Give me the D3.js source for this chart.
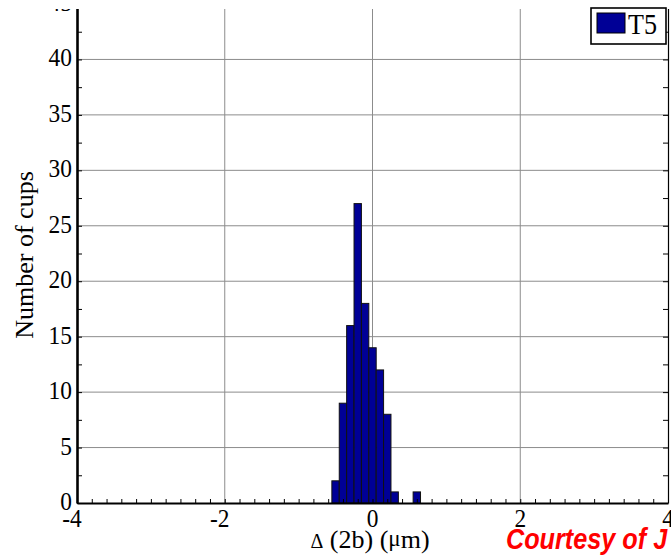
<!DOCTYPE html>
<html>
<head>
<meta charset="utf-8">
<script src="https://cdn.jsdelivr.net/npm/d3@7"></script>
<style>
  body { margin: 0; background: #fff; }
  svg { display: block; }
</style>
</head>
<body>
<div id="hist"></div>
<script>
// histogram values (bin width 0.1)
var binCenters = [-0.5, -0.4, -0.3, -0.2, -0.1, 0.0, 0.1, 0.2, 0.3, 0.6];
var counts     = [2, 9, 16, 27, 18, 14, 12, 8, 1, 1];
var binWidth = 0.1;

var xTicks = [-4, -2, 0, 2, 4];
var yTicks = [0, 5, 10, 15, 20, 25, 30, 35, 40, 45];
var seriesName = "T5";

var w = 671, h = 556;
var plotLeft = 77, plotRight = 668, plotTop = 4, plotBottom = 503;
var serif = "'Liberation Serif', 'DejaVu Serif', serif";

const svg = d3.select("#hist")
      .append("svg")
      .attr("width", w)
      .attr("height", h);

// the source picture is cut off a few pixels below the top of the frame
svg.append("clipPath")
   .attr("id", "cut")
   .append("rect")
   .attr("x", 0).attr("y", 9)
   .attr("width", w).attr("height", h - 9);

const chart = svg.append("g").attr("clip-path", "url(#cut)");

var xScale = d3.scaleLinear()
      .domain([-4, 4])
      .range([plotLeft, plotRight]);

var yScale = d3.scaleLinear()
      .domain([0, 45])
      .range([plotBottom, plotTop]);

// grid lines
chart.append("g")
   .selectAll("line")
   .data(yTicks.filter(d => d > 0 && d < 45))
   .join("line")
   .attr("x1", plotLeft).attr("x2", plotRight)
   .attr("y1", d => yScale(d)).attr("y2", d => yScale(d))
   .attr("stroke", "#8c8c8c")
   .attr("stroke-width", 1);

chart.append("g")
   .selectAll("line")
   .data(xTicks.filter(d => d > -4 && d < 4))
   .join("line")
   .attr("x1", d => xScale(d)).attr("x2", d => xScale(d))
   .attr("y1", plotTop).attr("y2", plotBottom)
   .attr("stroke", "#8c8c8c")
   .attr("stroke-width", 1);

// bars
chart.append("g")
   .selectAll("rect")
   .data(binCenters)
   .join("rect")
   .attr("x", d => xScale(d - binWidth / 2))
   .attr("width", d => xScale(d + binWidth / 2) - xScale(d - binWidth / 2))
   .attr("y", (d, i) => yScale(counts[i]))
   .attr("height", (d, i) => yScale(0) - yScale(counts[i]))
   .attr("fill", "#000096")
   .attr("stroke", "#111")
   .attr("stroke-width", 1);

// minor tick values
var xMinor = d3.range(-40, 41, 2).map(d => d / 10);
var yMinor = d3.range(0, 46, 2.5);

// axes, ticks drawn inward
var xAxis = d3.axisBottom(xScale)
      .tickValues(xMinor)
      .tickSizeInner(-4)
      .tickSizeOuter(0)
      .tickFormat("");

var yAxis = d3.axisLeft(yScale)
      .tickValues(yMinor)
      .tickSizeInner(-5)
      .tickSizeOuter(0)
      .tickFormat("");

var yAxisRight = d3.axisRight(yScale)
      .tickValues(yMinor)
      .tickSizeInner(-5)
      .tickSizeOuter(0)
      .tickFormat("");

chart.append("g")
   .attr("transform", "translate(" + plotRight + ",0)")
   .call(yAxisRight)
   .call(g => g.select(".domain").attr("stroke-width", 1.2));

chart.append("g")
   .attr("transform", "translate(0," + plotBottom + ")")
   .call(xAxis)
   .call(g => g.select(".domain").attr("stroke-width", 2.2));

chart.append("g")
   .attr("transform", "translate(" + plotLeft + ",0)")
   .call(yAxis)
   .call(g => g.select(".domain").attr("stroke-width", 2.6));

// tick labels
chart.append("g")
   .selectAll("text")
   .data(yTicks)
   .join("text")
   .attr("transform", d => "translate(72," + (yScale(d) + 7) + ") scale(0.9,1)")
   .attr("text-anchor", "end")
   .attr("font-family", serif)
   .attr("font-size", 26)
   .text(d => d);

chart.append("g")
   .selectAll("text")
   .data(xTicks)
   .join("text")
   .attr("transform", d => "translate(" + (xScale(d) - (d < 0 ? 5 : 0)) + ",527) scale(0.9,1)")
   .attr("text-anchor", "middle")
   .attr("font-family", serif)
   .attr("font-size", 26)
   .text(d => d);

// axis titles
chart.append("text")
   .attr("transform", "translate(33,255) rotate(-90)")
   .attr("text-anchor", "middle")
   .attr("font-family", serif)
   .attr("font-size", 26)
   .text("Number of cups");

var xTitle = chart.append("text")
   .attr("x", 370)
   .attr("y", 548)
   .attr("text-anchor", "middle")
   .attr("font-family", serif)
   .attr("font-size", 26);
xTitle.append("tspan").attr("font-size", 20).text("\u0394");
xTitle.append("tspan").text(" (2b) (");
xTitle.append("tspan").attr("font-size", 23).attr("dy", -2).text("\u03bc");
xTitle.append("tspan").attr("dy", 2).text("m)");

// legend
var legend = svg.append("g");
legend.append("rect")
   .attr("x", 591).attr("y", 8)
   .attr("width", 75).attr("height", 36)
   .attr("fill", "#fff")
   .attr("stroke", "#000")
   .attr("stroke-width", 1.6);
legend.append("rect")
   .attr("x", 597).attr("y", 13)
   .attr("width", 28).attr("height", 20)
   .attr("fill", "#000096")
   .attr("stroke", "#000")
   .attr("stroke-width", 1);
legend.append("text")
   .attr("transform", "translate(628,34) scale(0.9,1)")
   .attr("font-family", serif)
   .attr("font-size", 29)
   .text(seriesName);

// credit line, runs off the right edge
svg.append("text")
   .attr("transform", "translate(506,549) scale(0.87,1)")
   .attr("font-family", "'Liberation Sans', Arial, sans-serif")
   .attr("font-weight", "bold")
   .attr("font-style", "italic")
   .attr("font-size", 29)
   .attr("fill", "#ff0000")
   .text("Courtesy of J");
</script>
</body>
</html>
